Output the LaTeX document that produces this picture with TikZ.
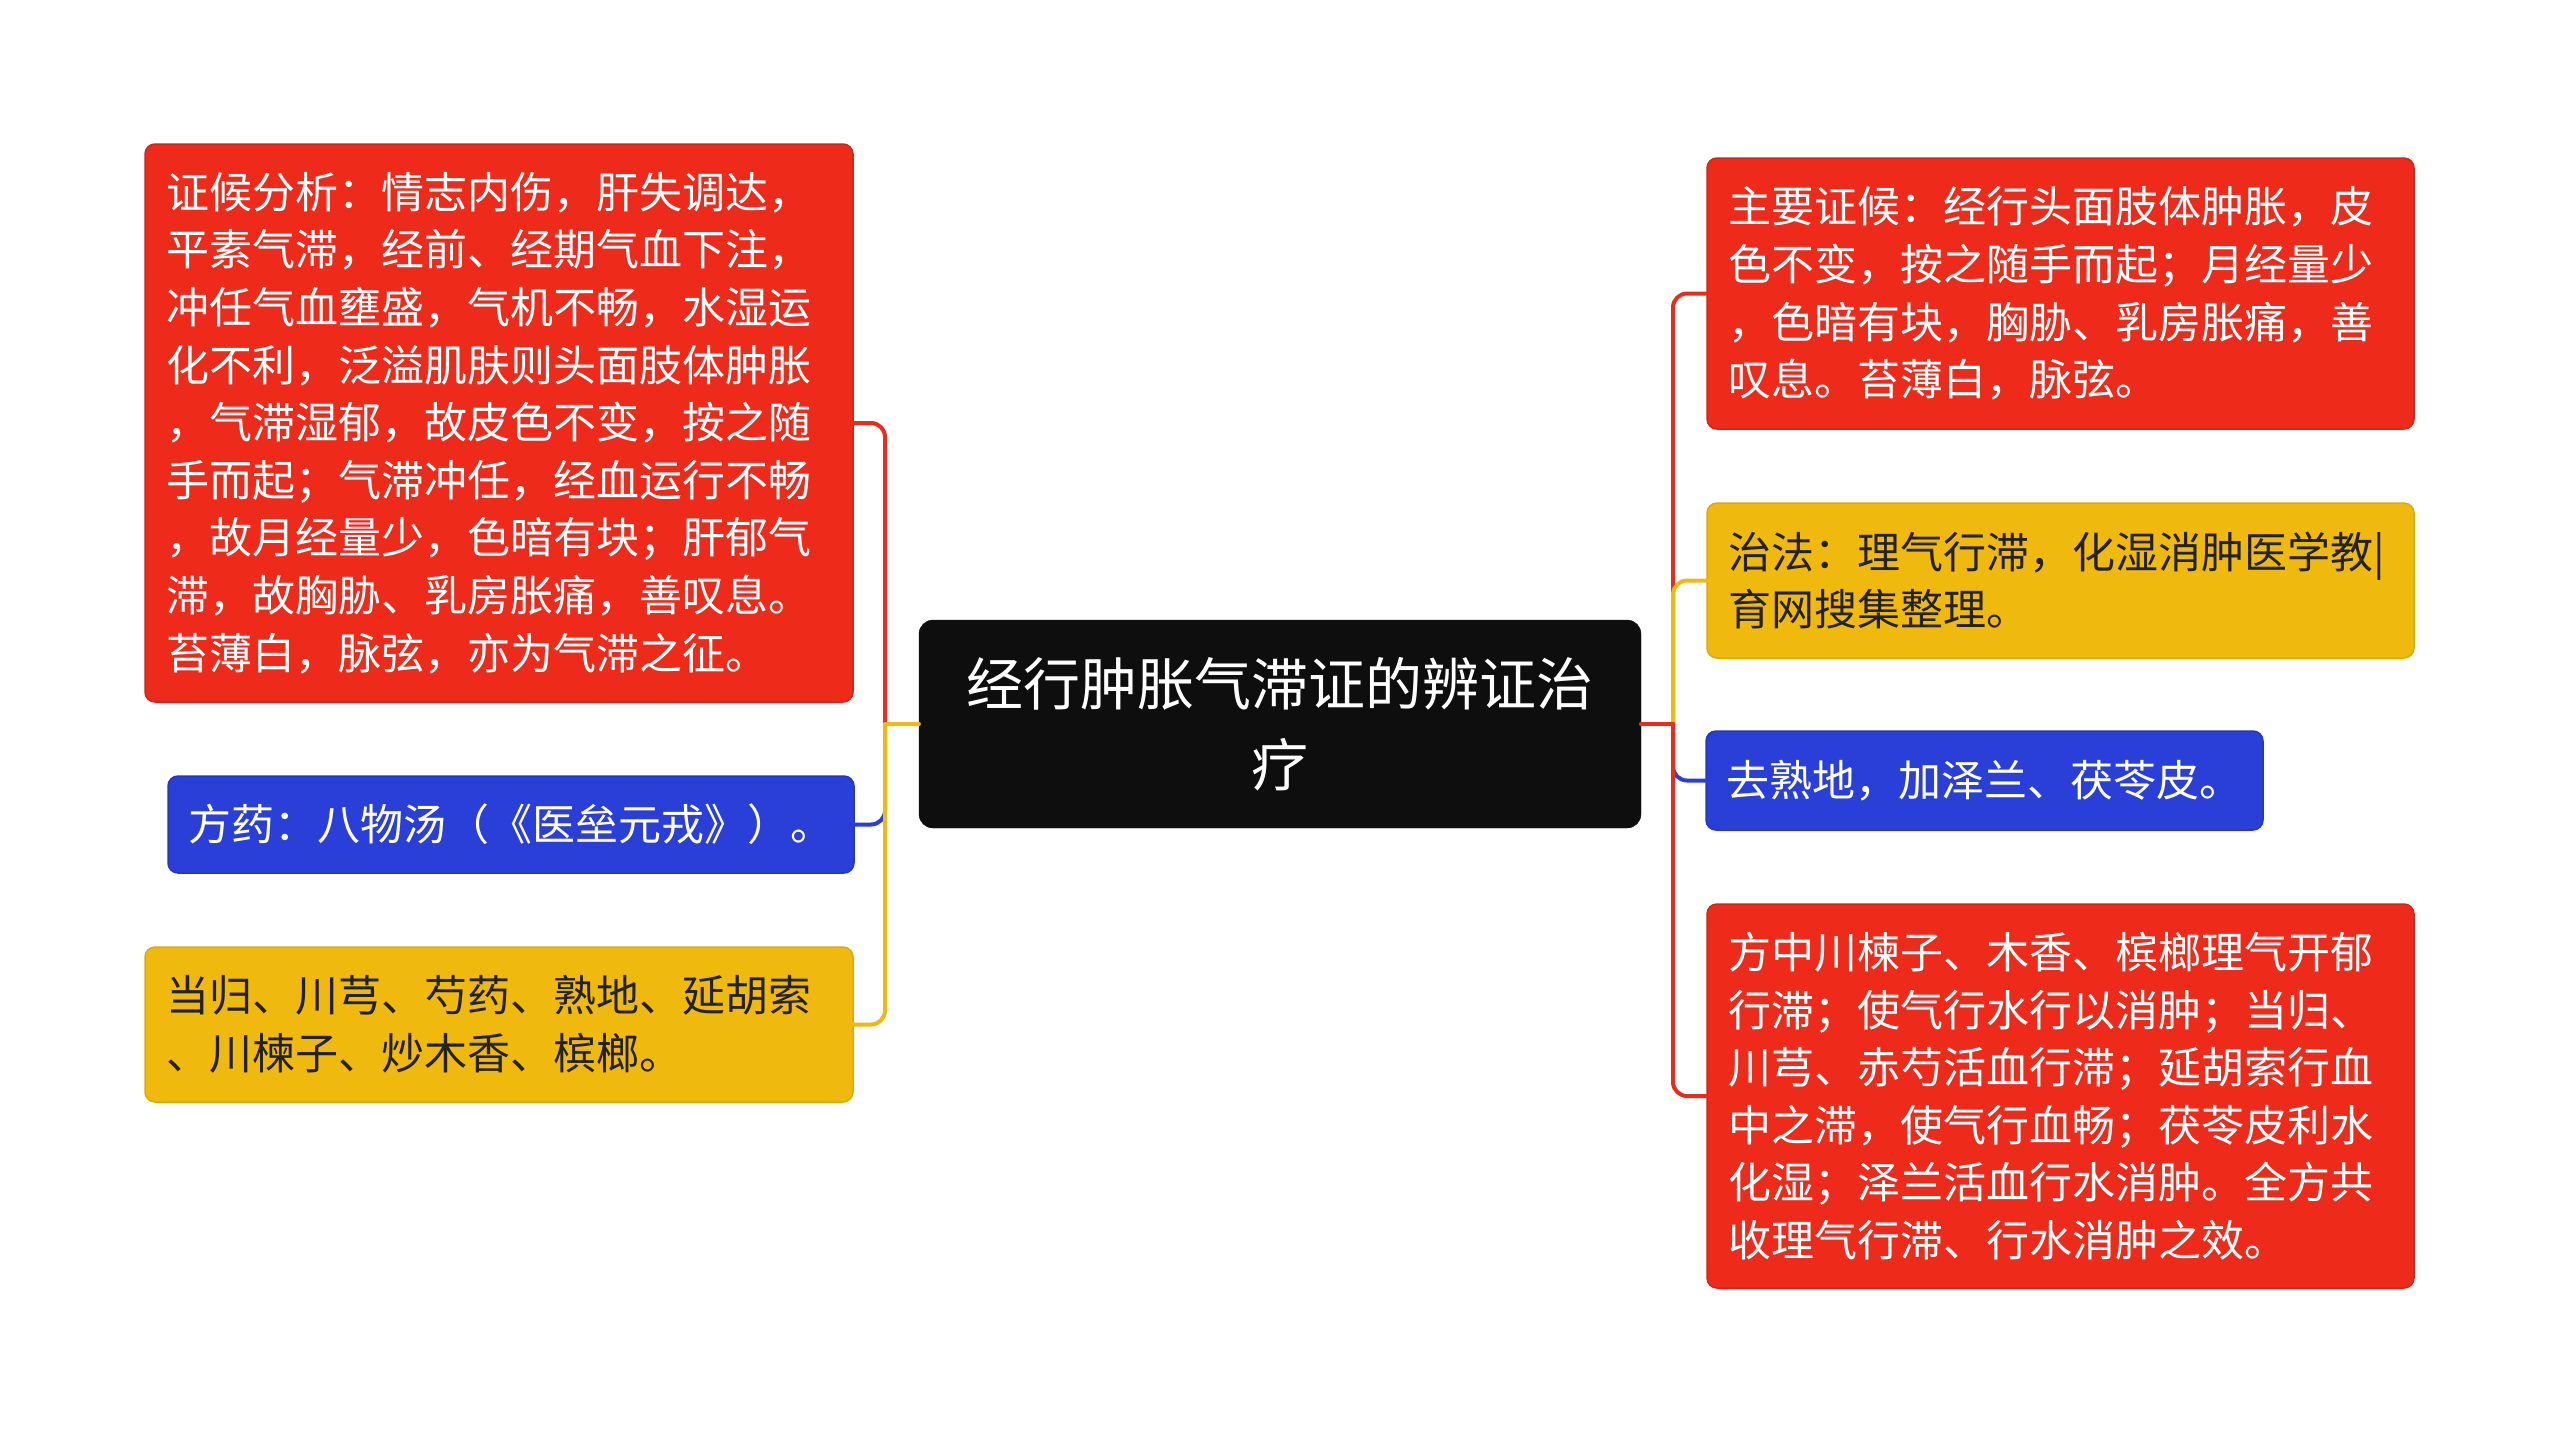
\documentclass[tikz,border=0pt]{standalone}
\usepackage{fontspec}
\setmainfont{Noto Sans CJK SC}
\definecolor{mred}{HTML}{EE2A1B}
\definecolor{myel}{HTML}{F0B90D}
\definecolor{mblue}{HTML}{2A3ED8}
\definecolor{mblack}{HTML}{0E0E0E}
\definecolor{dtext}{HTML}{222222}
\begin{document}
\begin{tikzpicture}[x=1pt,y=-1pt,
  leaf/.style={rounded corners=10pt, inner xsep=21pt, inner ysep=0pt, align=left,
    line width=1.5pt, font=\fontsize{43}{57.6}\selectfont},
  redleaf/.style={leaf, fill=mred, draw=mred!88!black, text=white},
  yelleaf/.style={leaf, fill=myel, draw=myel!92!black, text=dtext},
  blueleaf/.style={leaf, fill=mblue, draw=mblue!88!black, text=white},
  rootbox/.style={rounded corners=14pt, fill=mblack, draw=mblack, text=white, align=center,
    inner sep=0pt, font=\fontsize{57}{81}\selectfont},
  conn/.style={line width=4pt, line cap=round, line join=round},
  branchline/.style={conn, rounded corners=14pt},
]
\fill[white] (0,0) rectangle (2560,1433);
\useasboundingbox (0,0) rectangle (2560,1433);

% root
\node[rootbox, minimum width=722pt, minimum height=208pt, text width=690pt] (c) at (1280,724)
  {经行肿胀气滞证的辨证治\\疗};

% left
\node[redleaf, text width=666pt, minimum height=558pt] (b1) at (499,423) {%
证候分析：情志内伤，肝失调达，\\
平素气滞，经前、经期气血下注，\\
冲任气血壅盛，气机不畅，水湿运\\
化不利，泛溢肌肤则头面肢体肿胀\\
，气滞湿郁，故皮色不变，按之随\\
手而起；气滞冲任，经血运行不畅\\
，故月经量少，色暗有块；肝郁气\\
滞，故胸胁、乳房胀痛，善叹息。\\
苔薄白，脉弦，亦为气滞之征。};

\node[blueleaf, inner xsep=20pt, text width=646pt, minimum height=97pt] (b2) at (511,824.5)
  {方药：八物汤（《医垒元戎》）。};

\node[yelleaf, text width=666pt, minimum height=155pt] (b3) at (499,1024.5) {%
当归、川芎、芍药、熟地、延胡索\\
、川楝子、炒木香、槟榔。};

% right
\node[redleaf, text width=665pt, minimum height=271pt] (b4) at (2060.5,293.5) {%
主要证候：经行头面肢体肿胀，皮\\
色不变，按之随手而起；月经量少\\
，色暗有块，胸胁、乳房胀痛，善\\
叹息。苔薄白，脉弦。};

\node[yelleaf, text width=665pt, minimum height=155pt] (b5) at (2060.5,580.5) {%
治法：理气行滞，化湿消肿医学教|\\
育网搜集整理。};

\node[blueleaf, inner xsep=20pt, text width=517pt, minimum height=99pt] (b6) at (1984.5,780.5)
  {去熟地，加泽兰、茯苓皮。};

\node[redleaf, text width=665pt, minimum height=384pt] (b7) at (2060.5,1096) {%
方中川楝子、木香、槟榔理气开郁\\
行滞；使气行水行以消肿；当归、\\
川芎、赤芍活血行滞；延胡索行血\\
中之滞，使气行血畅；茯苓皮利水\\
化湿；泽兰活血行水消肿。全方共\\
收理气行滞、行水消肿之效。};

% junctions
\coordinate (jl) at (885,724);
\coordinate (jr) at (1673,724);

% left connectors
\draw[branchline, mred] (jl) |- (b1.east);
\draw[conn, mred] (c.west) -- (jl);
\draw[branchline, mblue] (jl) |- (b2.east);
\draw[conn, mblue] (c.west) -- (jl);
\draw[branchline, myel] (jl) |- (b3.east);
\draw[conn, myel] (c.west) -- (jl);

% right connectors
\draw[branchline, mred] (jr) |- (b4.west);
\draw[conn, mred] (c.east) -- (jr);
\draw[branchline, myel] (jr) |- (b5.west);
\draw[conn, myel] (c.east) -- (jr);
\draw[branchline, mblue] (jr) |- (b6.west);
\draw[conn, mblue] (c.east) -- (jr);
\draw[branchline, mred] (jr) |- (b7.west);
\draw[conn, mred] (c.east) -- (jr);
\end{tikzpicture}
\end{document}
